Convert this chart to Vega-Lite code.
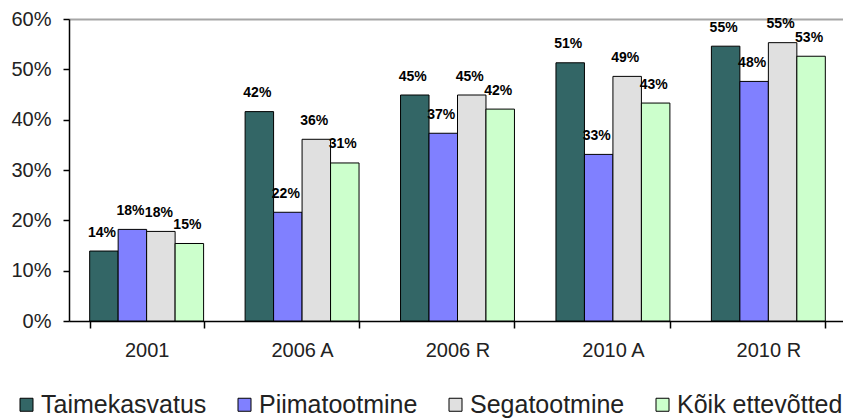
{
  "$schema": "https://vega.github.io/schema/vega-lite/v6.json",
  "autosize": "none",
  "width": 777,
  "height": 302,
  "padding": {"left": 69, "top": 19, "right": 0, "bottom": 98},
  "background": "white",
  "data": {"values": [
    {"g": "2001", "s": "Taimekasvatus", "v": 0.139},
    {"g": "2001", "s": "Piimatootmine", "v": 0.182},
    {"g": "2001", "s": "Segatootmine", "v": 0.178},
    {"g": "2001", "s": "Kõik ettevõtted", "v": 0.154},
    {"g": "2006 A", "s": "Taimekasvatus", "v": 0.416},
    {"g": "2006 A", "s": "Piimatootmine", "v": 0.216},
    {"g": "2006 A", "s": "Segatootmine", "v": 0.361},
    {"g": "2006 A", "s": "Kõik ettevõtted", "v": 0.314},
    {"g": "2006 R", "s": "Taimekasvatus", "v": 0.449},
    {"g": "2006 R", "s": "Piimatootmine", "v": 0.373},
    {"g": "2006 R", "s": "Segatootmine", "v": 0.449},
    {"g": "2006 R", "s": "Kõik ettevõtted", "v": 0.421},
    {"g": "2010 A", "s": "Taimekasvatus", "v": 0.513},
    {"g": "2010 A", "s": "Piimatootmine", "v": 0.331},
    {"g": "2010 A", "s": "Segatootmine", "v": 0.486},
    {"g": "2010 A", "s": "Kõik ettevõtted", "v": 0.433},
    {"g": "2010 R", "s": "Taimekasvatus", "v": 0.546},
    {"g": "2010 R", "s": "Piimatootmine", "v": 0.476},
    {"g": "2010 R", "s": "Segatootmine", "v": 0.553},
    {"g": "2010 R", "s": "Kõik ettevõtted", "v": 0.526}
  ]},
  "encoding": {
    "x": {"field": "g", "type": "nominal", "sort": null,
      "scale": {"paddingInner": 0.267, "paddingOuter": 0.133},
      "axis": {"title": null, "labelAngle": 0, "labelFont": "Liberation Sans", "labelFontSize": 20, "labelColor": "#222",
        "tickBand": "extent", "tickColor": "#000", "tickSize": 7, "tickWidth": 1.5, "domainColor": "#000", "domainWidth": 1.5, "labelPadding": 12}},
    "xOffset": {"field": "s", "type": "nominal", "sort": ["Taimekasvatus", "Piimatootmine", "Segatootmine", "Kõik ettevõtted"]},
    "y": {"field": "v", "type": "quantitative",
      "scale": {"domain": [0, 0.6], "nice": false},
      "axis": {"title": null, "format": ".0%", "values": [0, 0.1, 0.2, 0.3, 0.4, 0.5, 0.6], "labelFont": "Liberation Sans", "labelFontSize": 20, "labelColor": "#222",
        "tickColor": "#000", "tickSize": 6, "tickWidth": 1.5, "domainColor": "#000", "domainWidth": 1.5, "labelPadding": 12,
        "grid": true, "gridColor": "#a6a6a6", "gridWidth": 2,
        "gridOpacity": {"condition": {"test": "datum.value >= 0.6", "value": 1}, "value": 0}}}
  },
  "layer": [
    {
      "mark": {"type": "bar", "stroke": "#000", "strokeWidth": 1},
      "encoding": {
        "color": {"field": "s", "type": "nominal",
          "scale": {"domain": ["Taimekasvatus", "Piimatootmine", "Segatootmine", "Kõik ettevõtted"], "range": ["#336666", "#8080ff", "#e0e0e0", "#ccffcc"]},
          "legend": {"title": null, "orient": "none", "direction": "horizontal", "legendX": -55, "legendY": 373, "padding": 0,
            "symbolType": "square", "symbolSize": 169, "symbolStrokeColor": "#000", "symbolStrokeWidth": 1, "symbolOpacity": 1,
            "labelFont": "Liberation Sans", "labelFontSize": 25, "labelColor": "#222", "labelOffset": 2, "columnPadding": 25, "labelLimit": 400}}
      }
    },
    {
      "mark": {"type": "text", "font": "Liberation Sans", "fontSize": 14, "fontWeight": "bold", "color": "#000", "baseline": "alphabetic", "dy": -14.5, "dx": -2},
      "encoding": {
        "text": {"field": "v", "type": "quantitative", "format": ".0%"}
      }
    }
  ],
  "config": {"view": {"stroke": null}}
}
